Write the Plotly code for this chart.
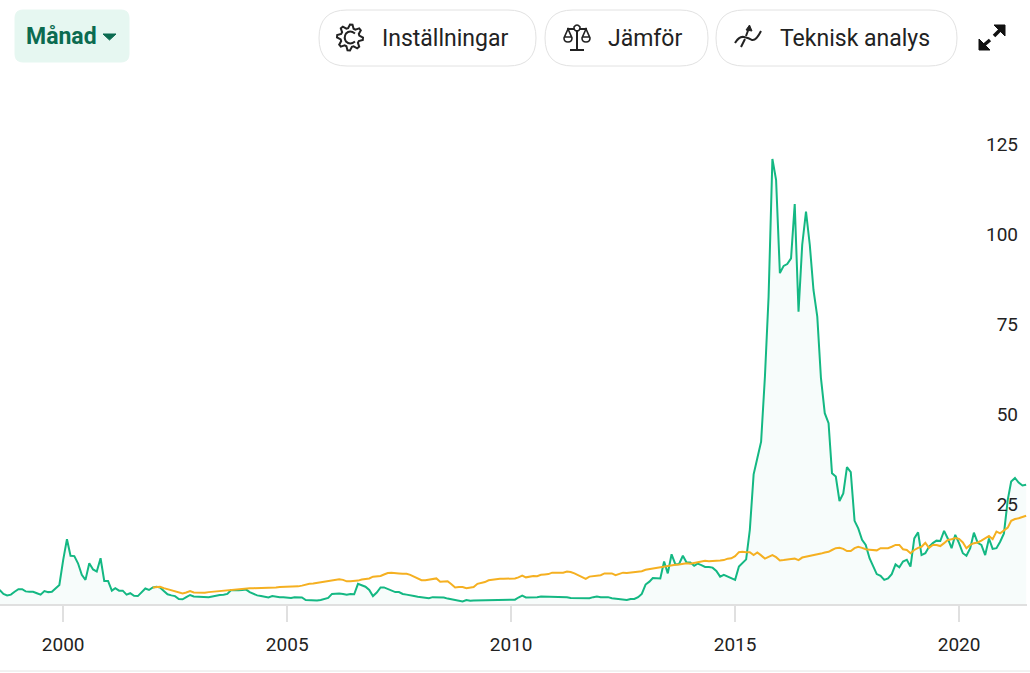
'''
Monthly price chart with sector comparison line and toolbar
'''

import math

import pandas as pd
import plotly.graph_objects as go

greenColor = '#14b883'
orangeColor = '#f5b021'
fillColor = 'rgba(20,184,131,0.035)'
axisColor = '#e0e0e0'
textColor = '#222222'
fontName = 'Roboto'

priceValues = [
    3.9, 2.8, 2.4, 2.6, 3.4, 4.1, 4.1, 3.5, 3.4, 3.4, 3.0, 2.6, 3.6, 3.3, 3.4, 4.5, 5.3,
    12.2, 18.0, 13.4, 13.3, 11.3, 8.1, 6.7, 11.3, 9.6, 9.0, 12.7, 6.4, 6.4, 3.7, 4.4, 3.7, 3.7,
    2.6, 3.0, 2.3, 2.2, 3.1, 4.3, 3.9, 4.6, 4.8, 4.6, 3.6, 2.7, 2.4, 2.2, 1.4, 1.3, 1.9, 2.5,
    2.1, 2.0, 2.0, 2.0, 1.9, 2.1, 2.4, 2.5, 2.6, 2.8, 3.9, 3.8, 3.8, 3.9, 4.0, 3.3, 2.8, 2.4,
    2.2, 1.9, 1.8, 2.2, 2.0, 1.9, 1.9, 1.8, 1.7, 1.9, 1.9, 1.8, 1.1, 1.0, 1.0, 1.0, 1.1, 1.3,
    1.7, 2.8, 2.9, 2.9, 2.8, 2.6,
    2.8, 2.7, 5.6, 5.1, 4.8, 3.9, 2.2, 3.2, 4.6, 4.6, 4.1, 3.7, 3.3, 3.3, 2.8, 2.6, 2.3, 2.2,
    2.0, 1.8, 1.7, 1.6, 1.9, 1.9, 1.9, 1.8, 1.5, 1.3, 1.1, 0.8, 0.7, 1.1, 0.9, 1.0, 1.0, 1.0,
    1.1, 1.1, 1.2, 1.2, 1.1, 1.1, 1.0, 1.0, 1.2, 1.8, 2.3, 1.8, 1.8, 1.8, 1.9, 2.1, 2.1, 2.0,
    2.1, 2.0, 2.0, 1.9, 1.9, 1.7, 1.7, 1.6, 1.6, 1.6, 1.6, 1.9, 2.1, 1.9, 1.9, 1.9, 1.6, 1.5,
    1.3, 1.1, 1.1, 1.4, 1.4, 1.9, 2.8, 5.4, 6.2, 7.2, 7.1, 7.1, 11.8, 8.5, 13.8, 11.0, 11.1,
    13.4, 11.5, 11.5, 10.6, 11.2,
    10.8, 10.3, 10.3, 10.1, 9.2, 7.6, 8.1, 7.6, 7.2, 6.7, 10.4, 11.3, 12.4,
    20.6, 36.0, 40.5, 45.1, 63.1, 85.4, 123.6, 117.8, 91.9, 93.9, 94.4, 96.0, 111.1, 81.2, 99.7,
    109.0, 99.7, 87.2, 79.8, 62.7, 53.0, 50.2, 36.3, 35.4, 28.6, 30.7, 38.0, 36.6, 23.1, 21.0,
    17.8, 16.4, 12.7, 10.4, 8.3, 7.8, 6.7, 7.1, 8.3, 11.0, 10.2, 11.8, 12.3, 10.4, 18.2, 19.9,
    13.6, 14.1, 15.9, 16.9, 17.6, 17.5, 20.3, 18.2, 15.5, 19.2, 16.9, 14.1, 13.4, 15.5, 19.8,
    17.0, 16.4, 13.6, 18.2, 15.3, 15.5, 17.3, 19.6, 28.9, 34.0, 35.0, 33.7, 32.9, 33.1,
]

sectorValues = [
    4.6, 4.8, 4.8, 4.4, 4.1, 3.7, 3.4, 3.1, 2.9, 3.2, 3.6, 3.2, 3.1, 3.1, 3.1, 3.3, 3.4, 3.6,
    3.7, 3.7, 3.7, 3.9, 4.0, 4.1, 4.3, 4.4, 4.4, 4.4, 4.4, 4.4, 4.4, 4.4, 4.5, 4.6, 4.7, 4.7,
    4.8, 4.8, 4.9, 4.9, 5.1, 5.4, 5.6, 5.7, 5.9, 6.0, 6.1, 6.4, 6.5, 6.7, 6.9, 6.7, 6.3,
    6.3, 6.3, 6.5, 6.8, 7.0, 7.1, 7.6, 7.8, 7.8, 8.2, 8.6, 8.7, 8.7, 8.5, 8.4, 8.4, 8.1, 7.6,
    7.3, 6.6, 6.6, 6.7, 6.9, 7.1, 6.2, 6.3, 6.3, 5.5, 4.6, 4.7, 4.7, 4.4, 4.5, 4.7, 5.6, 5.8,
    6.1, 6.6, 6.8, 6.8, 7.0, 7.0, 7.0, 7.1, 7.1, 7.4, 7.9, 7.4, 7.7, 7.8, 7.7, 8.1, 8.2, 8.3,
    8.7, 8.7, 8.6, 8.7, 9.0, 8.9, 8.5, 8.0, 7.4, 7.0, 7.6, 7.7, 7.7, 8.0, 8.5, 8.6, 8.5, 8.0,
    8.3, 8.7, 8.6, 8.7, 8.7, 8.8, 9.1, 9.5, 9.7, 9.9, 10.0, 10.1, 10.3, 10.5, 10.7, 10.9, 11.0,
    11.2, 11.3, 11.2, 11.4, 11.6,
    11.8, 12.0, 11.9, 11.9, 12.0, 12.1, 12.2, 12.6, 12.7, 13.3, 14.4, 14.5, 14.4, 14.4, 13.6,
    14.3, 13.5, 12.6, 13.1, 13.6, 13.0, 12.1, 12.2, 12.4, 12.5, 12.6, 12.2, 12.9, 13.1, 13.3,
    13.4, 13.7, 14.0, 14.3, 14.5, 15.0, 15.5, 15.6, 15.3, 14.7, 14.7, 15.5, 15.9, 15.6, 15.2,
    15.1, 15.0, 14.9, 15.5, 15.4, 15.5, 15.9, 16.4, 16.4, 15.2, 15.0, 14.1, 15.0, 15.6, 15.9,
    17.0, 15.6, 16.4, 16.4, 16.1, 16.9, 17.8, 18.0, 18.3, 18.1, 17.1, 15.5, 16.4, 16.9, 17.1,
    17.6, 18.2, 18.9, 18.0, 20.1, 19.6, 20.3, 21.2, 23.1, 23.6, 23.8, 24.1, 24.5,
]

priceDates = pd.date_range('1998-08-01', periods=len(priceValues), freq='MS')
sectorDates = pd.date_range('2002-01-01', periods=len(sectorValues), freq='MS')

yearTicks = ['2000-01-01', '2005-01-01', '2010-01-01', '2015-01-01', '2020-01-01']
yearLabels = ['2000', '2005', '2010', '2015', '2020']
priceTicks = [25, 50, 75, 100, 125]


def gearPath(cx, cy, outer, inner, teeth):
    # outline of the settings icon
    points = []
    for i in range(teeth * 4):
        angle = 2 * math.pi * i / (teeth * 4)
        radius = outer if i % 4 in (0, 1) else inner
        points.append((cx + radius * math.cos(angle), cy + radius * math.sin(angle)))
    return 'M ' + ' L '.join(f'{x:.1f},{y:.1f}' for x, y in points) + ' Z'


def pill(x0, y0, x1, y1, r, fill, line):
    path = (f'M {x0 + r},{y0} L {x1 - r},{y0} Q {x1},{y0} {x1},{y0 + r} L {x1},{y1 - r} '
            f'Q {x1},{y1} {x1 - r},{y1} L {x0 + r},{y1} Q {x0},{y1} {x0},{y1 - r} '
            f'L {x0},{y0 + r} Q {x0},{y0} {x0 + r},{y0} Z')
    return dict(type='path', xref='x2', yref='y2', path=path, fillcolor=fill,
                line=dict(color=line, width=1))


def stroke(path, width=2, color='#222222'):
    return dict(type='path', xref='x2', yref='y2', path=path,
                line=dict(color=color, width=width))


def solid(path, color='#111111'):
    return dict(type='path', xref='x2', yref='y2', path=path, fillcolor=color,
                line=dict(color=color, width=1))


def label(x, y, text, size, color=textColor, weight=None):
    return dict(xref='x2', yref='y2', x=x, y=y, text=text, showarrow=False,
                xanchor='left', yanchor='middle',
                font=dict(family=fontName, size=size, color=color, weight=weight))


fig = go.Figure()
fig.add_trace(go.Scatter(
    x=priceDates, y=priceValues, mode='lines', fill='tozeroy', fillcolor=fillColor,
    line=dict(color=greenColor, width=2), hoverinfo='skip'))
fig.add_trace(go.Scatter(
    x=sectorDates, y=sectorValues, mode='lines',
    line=dict(color=orangeColor, width=2), hoverinfo='skip'))
# overlay axes in page pixels for the toolbar
fig.add_trace(go.Scatter(
    x=[0], y=[0], xaxis='x2', yaxis='y2', mode='markers',
    marker=dict(opacity=0), hoverinfo='skip'))

toolbarShapes = [
    pill(15, 10, 129, 62, 8, '#e6f7f1', '#e6f7f1'),
    solid('M 103,34 L 116,34 L 109.5,40 Z', '#0b6b50'),
    pill(319, 10, 536, 66, 28, 'white', '#e2e2e2'),
    pill(545, 10, 708, 66, 28, 'white', '#e2e2e2'),
    pill(716, 10, 957, 66, 28, 'white', '#e2e2e2'),
    # gear
    stroke(gearPath(350, 37.5, 13, 9.5, 8)),
    stroke('M 355,33.5 Q 350,29.5 346,33.5 Q 343.5,37.5 346,41.5 Q 350,45.5 355,41.5'),
    # scales
    stroke('M 577,30 L 577,50 M 570,50 L 584,50 M 567,29 L 574,29 M 580,29 L 587,29'),
    stroke('M 574,27 Q 577,23 580,27 Q 580,31 577,31 Q 574,31 574,27 Z', width=1.6),
    stroke('M 568,29 L 564,38 Q 564,42 568,42 Q 572,42 572,38 Z M 564,37 L 572,37', width=1.6),
    stroke('M 586,29 L 582,38 Q 582,42 586,42 Q 590,42 590,38 Z M 582,37 L 590,37', width=1.6),
    # squiggle
    stroke('M 735,43 Q 739,36 744,37 Q 749,38 752,40 Q 756,41 761,31'),
    stroke('M 741,47 L 745,39 M 746,36 L 749,28'),
    solid('M 746,30 L 749.5,25 L 752,31 Z', '#222222'),
    # expand arrows
    solid('M 994,25 L 1005,25 L 1005,36 Z'),
    stroke('M 1000,30 L 994,36', width=3.5, color='#111111'),
    solid('M 979,39 L 979,50 L 990,50 Z'),
    stroke('M 984,45 L 990,40', width=3.5, color='#111111'),
    # bottom page rule
    dict(type='line', xref='x2', yref='y2', x0=0, x1=1030, y0=671, y1=671,
         line=dict(color='#e4e4e4', width=1)),
]

toolbarLabels = [
    label(24, 36, 'Månad', 23, '#0b6b50', 'bold'),
    label(380, 38, 'Inställningar', 23),
    label(606, 38, 'Jämför', 23),
    label(778, 38, 'Teknisk analys', 23),
]

fig.update_layout(
    width=1030,
    height=673,
    showlegend=False,
    plot_bgcolor='rgba(0,0,0,0)',
    paper_bgcolor='white',
    margin=dict(l=0, r=0, t=0, b=0),
    shapes=toolbarShapes,
    annotations=toolbarLabels,
    xaxis=dict(
        domain=[0, 1027 / 1030],
        range=['1998-08-04', '2021-07-08'],
        tickvals=yearTicks,
        ticktext=yearLabels,
        ticks='outside',
        ticklen=16,
        tickwidth=2,
        tickcolor=axisColor,
        showgrid=False,
        zeroline=False,
        showline=True,
        linecolor=axisColor,
        linewidth=2,
        ticklabelstandoff=6,
        tickfont=dict(family=fontName, size=19, color=textColor),
    ),
    yaxis=dict(
        domain=[1 - 604 / 673, 1 - 70 / 673],
        range=[0, 148.3],
        side='right',
        tickvals=priceTicks,
        ticklabelposition='inside',
        ticklabelshift=-10,
        ticklabelstandoff=6,
        showgrid=False,
        zeroline=False,
        showline=False,
        tickfont=dict(family=fontName, size=19, color=textColor),
    ),
    xaxis2=dict(domain=[0, 1], range=[0, 1030], visible=False, anchor='y2'),
    yaxis2=dict(domain=[0, 1], range=[673, 0], visible=False, anchor='x2'),
)

fig.write_html(
    'out.html',
    config={'displayModeBar': False},
    post_script="document.body.style.margin='0';document.body.style.overflow='hidden';")
